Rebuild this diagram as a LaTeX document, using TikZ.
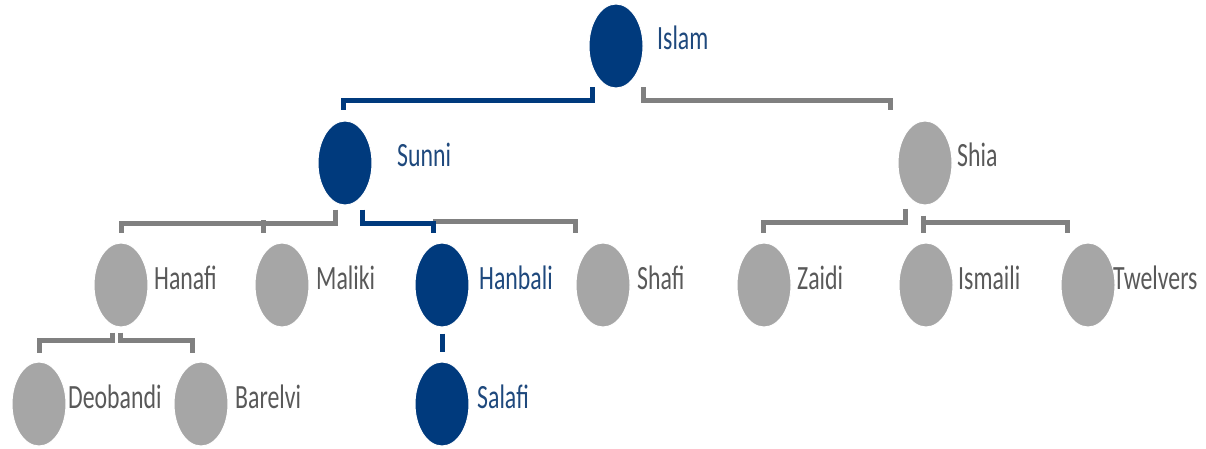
\documentclass[tikz,border=0pt]{standalone}
\usepackage{fontspec}
\newfontfamily\labfont{Carlito}[FakeStretch=0.70]
\usetikzlibrary{shapes.geometric}
\definecolor{cblue}{RGB}{0,58,125}
\definecolor{tblue}{RGB}{31,73,125}
\definecolor{cgray}{RGB}{166,166,166}
\definecolor{lgray}{RGB}{128,128,128}
\definecolor{tgray}{RGB}{89,89,89}
\tikzset{
  bub/.style={ellipse, minimum width=54pt, minimum height=84pt, inner sep=0pt, draw=white, line width=1pt},
  bbub/.style={bub, fill=cblue},
  gbub/.style={bub, fill=cgray},
  lab/.style={anchor=base west, inner sep=0pt, font=\labfont\fontsize{34}{40}\selectfont},
  blab/.style={lab, text=tblue},
  glab/.style={lab, text=tgray},
  bl/.style={draw=cblue, line width=5pt},
  gl/.style={draw=lgray, line width=5pt}
}
\begin{document}
\begin{tikzpicture}[x=1pt,y=-1pt]
\useasboundingbox (0,0) rectangle (1206,449);
% bubbles
\node[bbub] (islam) at (616,46) {};
\node[bbub] (sunni) at (345,163) {};
\node[gbub] (shia) at (925,163) {};
\node[gbub] (hanafi) at (121,285) {};
\node[gbub] (maliki) at (282,285) {};
\node[bbub] (hanbali) at (442,285) {};
\node[gbub] (shafi) at (603,285) {};
\node[gbub] (zaidi) at (764,285) {};
\node[gbub] (ismaili) at (926,285) {};
\node[gbub] (twelvers) at (1088,285) {};
\node[gbub] (deobandi) at (39,404) {};
\node[gbub] (barelvi) at (201,404) {};
\node[bbub] (salafi) at (442,404) {};
% labels
\node[blab] (islamL) at (657,50) {Islam};
\node[blab] (sunniL) at (397,167) {Sunni};
\node[glab] (shiaL) at (957,167) {Shia};
\node[glab] (hanafiL) at (154,289) {Hanafi};
\node[glab] (malikiL) at (316,289) {Maliki};
\node[blab] (hanbaliL) at (479,289) {Hanbali};
\node[glab] (shafiL) at (637,289) {Shafi};
\node[glab] (zaidiL) at (797,289) {Zaidi};
\node[glab] (ismailiL) at (958,289) {Ismaili};
\node[glab] (twelversL) at (1113,289) {Twelvers};
\node[glab] (deobandiL) at (68,408) {Deobandi};
\node[glab] (barelviL) at (235,408) {Barelvi};
\node[blab] (salafiL) at (477,408) {Salafi};
% connectors
\draw[bl] ([xshift=-24pt,yshift=1pt]islam.south) -- ++(0,-13pt) -| ([xshift=-2pt,yshift=10pt]sunni.north);
\draw[gl] ([xshift=27pt,yshift=1pt]islam.south) -- ++(0,-13pt) -| ([xshift=-35pt,yshift=10pt]shia.north);
\draw[gl] ([xshift=-10pt,yshift=-4pt]sunni.south) -- ++(0,-14pt) -| ([yshift=10pt]hanafi.north);
\draw[gl] ([xshift=-19pt,yshift=10pt]maliki.north) -- ++(0,13pt);
\draw[gl] ([xshift=-9pt,yshift=21pt]hanbali.north) -| ([xshift=-28pt,yshift=10pt]shafi.north);
\draw[bl] ([xshift=17pt,yshift=-4pt]sunni.south) -- ++(0,-14pt) -| ([xshift=-9pt,yshift=10pt]hanbali.north);
\draw[gl] ([xshift=-9pt,yshift=-5pt]hanafi.south) -- ++(0,-8pt) -| ([yshift=9pt]deobandi.north);
\draw[gl] ([xshift=-1pt,yshift=-5pt]hanafi.south) -- ++(0,-8pt) -| ([xshift=-9pt,yshift=9pt]barelvi.north);
\draw[bl] ([yshift=-6pt]hanbali.south) -- ([yshift=10pt]salafi.north);
\draw[gl] ([xshift=-20pt,yshift=-3pt]shia.south) -- ++(0,-14pt) -| ([xshift=-1pt,yshift=10pt]zaidi.north);
\draw[gl] ([xshift=-2pt,yshift=-10pt]shia.south) -- ++(0,-7pt) -| ([xshift=-21pt,yshift=10pt]twelvers.north);
\draw[gl] ([xshift=-3pt,yshift=10pt]ismaili.north) -- ++(0,13pt);
\end{tikzpicture}
\end{document}
